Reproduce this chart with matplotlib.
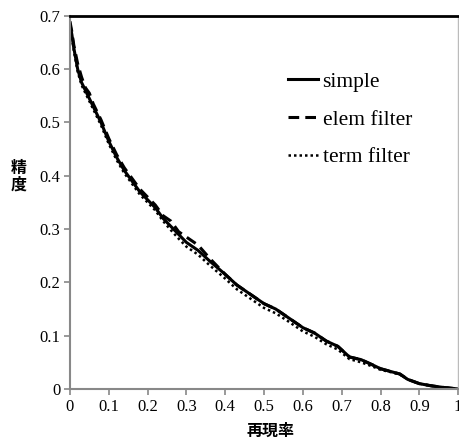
import matplotlib
matplotlib.use("Agg")
import matplotlib.pyplot as plt

# --- data ---
recall = [0, 0.005, 0.01, 0.02, 0.03, 0.04, 0.05, 0.06, 0.08, 0.1, 0.12, 0.14,
          0.16, 0.18, 0.2, 0.22, 0.24, 0.26, 0.28, 0.3, 0.33, 0.36, 0.4, 0.43,
          0.46, 0.5, 0.53, 0.56, 0.6, 0.63, 0.66, 0.69, 0.72, 0.75, 0.78, 0.8,
          0.83, 0.85, 0.87, 0.9, 0.93, 0.96, 1.0]
simple = [0.685, 0.665, 0.64, 0.6, 0.575, 0.56, 0.545, 0.53, 0.5, 0.465, 0.435, 0.41,
          0.39, 0.37, 0.355, 0.34, 0.32, 0.305, 0.29, 0.275, 0.26, 0.24, 0.215, 0.195,
          0.18, 0.16, 0.15, 0.135, 0.115, 0.105, 0.09, 0.08, 0.06, 0.055, 0.045, 0.038,
          0.032, 0.028, 0.018, 0.01, 0.006, 0.003, 0.0]
elem_filter = [0.69, 0.67, 0.645, 0.61, 0.585, 0.565, 0.555, 0.535, 0.505, 0.47, 0.44, 0.415,
               0.395, 0.375, 0.36, 0.345, 0.325, 0.315, 0.295, 0.285, 0.27, 0.245, 0.215, 0.195,
               0.18, 0.16, 0.15, 0.135, 0.115, 0.105, 0.09, 0.08, 0.06, 0.055, 0.045, 0.038,
               0.032, 0.028, 0.018, 0.01, 0.006, 0.003, 0.0]
term_filter = [0.68, 0.66, 0.635, 0.595, 0.57, 0.555, 0.54, 0.525, 0.495, 0.46, 0.43, 0.405,
               0.385, 0.365, 0.35, 0.335, 0.315, 0.298, 0.282, 0.267, 0.252, 0.232, 0.207, 0.187,
               0.172, 0.152, 0.142, 0.128, 0.108, 0.098, 0.084, 0.074, 0.056, 0.05, 0.042, 0.036,
               0.031, 0.027, 0.018, 0.01, 0.006, 0.003, 0.0]

x_ticks = [0, 0.1, 0.2, 0.3, 0.4, 0.5, 0.6, 0.7, 0.8, 0.9, 1]
x_tick_labels = ["0", "0.1", "0.2", "0.3", "0.4", "0.5", "0.6", "0.7", "0.8", "0.9", "1"]
y_ticks = [0, 0.1, 0.2, 0.3, 0.4, 0.5, 0.6, 0.7]
y_tick_labels = ["0", "0.1", "0.2", "0.3", "0.4", "0.5", "0.6", "0.7"]

plt.rcParams['font.family'] = ['Liberation Serif', 'DejaVu Serif']
cjk = ['Noto Sans CJK JP', 'DejaVu Sans']

fig = plt.figure(figsize=(4.6, 4.41), dpi=100)
ax = fig.add_axes([0.152, 0.118, 0.844, 0.846])

ax.plot(recall, term_filter, color='black', lw=1.8, linestyle=(0, (1, 1.2)), label='term filter')
ax.plot(recall, elem_filter, color='black', lw=2.2, linestyle=(0, (3.5, 2)), label='elem filter')
ax.plot(recall, simple, color='black', lw=2.2, label='simple')

ax.set_xlim(0, 1)
ax.set_ylim(0, 0.7)
ax.set_xticks(x_ticks)
ax.set_xticklabels(x_tick_labels)
ax.set_yticks(y_ticks)
ax.set_yticklabels(y_tick_labels)
ax.tick_params(axis='both', direction='out', length=4, width=1.2, color='#888888',
               labelsize=12, pad=3)

for side in ['left', 'bottom']:
    ax.spines[side].set_color('#888888')
    ax.spines[side].set_linewidth(1.5)
ax.spines['top'].set_color('black')
ax.spines['top'].set_linewidth(2)
ax.spines['right'].set_color('#bbbbbb')
ax.spines['right'].set_linewidth(1)

fig.text(0.589, 0.023, '再現率', family=cjk, fontweight='bold', fontsize=11.5,
         ha='center', va='center')
fig.text(0.04, 0.60, '精\n度', family=cjk, fontweight='bold', fontsize=11.5,
         ha='center', va='center', linespacing=1.0)

handles, labels = ax.get_legend_handles_labels()
order = [2, 1, 0]
ax.legend([handles[i] for i in order], [labels[i] for i in order],
          loc='upper left', bbox_to_anchor=(0.562, 0.85), frameon=False,
          borderpad=0, borderaxespad=0,
          fontsize=15.5, handlelength=1.4, handletextpad=0.2, labelspacing=0.82)

fig.savefig('out.png', dpi=100)
